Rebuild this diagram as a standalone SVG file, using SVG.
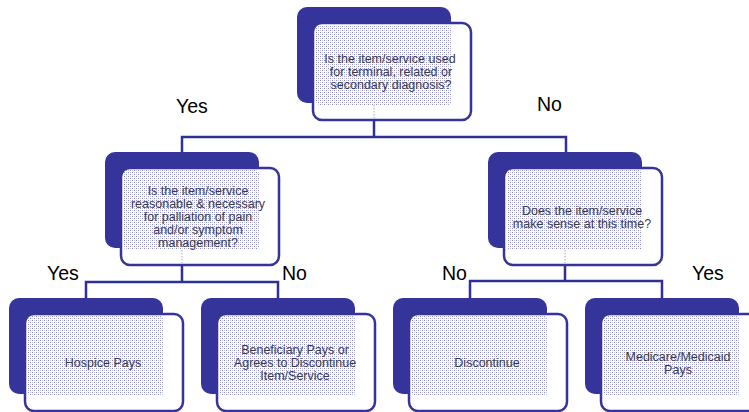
<svg xmlns="http://www.w3.org/2000/svg" width="749" height="412" viewBox="0 0 749 412">
<defs>
<pattern id="dots" patternUnits="userSpaceOnUse" width="4" height="4">
<rect width="4" height="4" fill="#ffffff"/>
<rect x="0" y="0" width="1" height="1" fill="#8c8cc8"/>
<rect x="2" y="2" width="1" height="1" fill="#8c8cc8"/>
<rect x="2" y="0" width="1" height="1" fill="#c8c8e4"/>
<rect x="0" y="2" width="1" height="1" fill="#c8c8e4"/>
</pattern>
</defs>
<style>
.back{fill:#34349a;}
.front{fill:#ffffff;stroke:#34349a;stroke-width:2.5;}
.pat{fill:url(#dots);}
.dl{stroke:#a8a8cc;stroke-width:1;stroke-dasharray:1.5 1.5;fill:none;}
.conn{stroke:#2e3192;stroke-width:2.5;fill:none;}
.t{font-family:"Liberation Sans",Arial,sans-serif;font-size:12.5px;fill:#3a3a3a;text-anchor:middle;}
.lbl{font-family:"Liberation Sans",Arial,sans-serif;font-size:19.5px;fill:#000000;}
</style>
<g id="connectors">
<polyline class="conn" points="374,120 374,137"/>
<polyline class="conn" points="182,152 182,137 566,137 566,152"/>
<polyline class="conn" points="182,265 182,282"/>
<polyline class="conn" points="86,298 86,282 278,282 278,298"/>
<polyline class="conn" points="565,265 565,281"/>
<polyline class="conn" points="470,298 470,281 662,281 662,298"/>
</g>
<g id="node1">
<rect class="back" x="297" y="7" width="154" height="96" rx="10"/>
<rect class="front" x="313" y="23" width="158" height="97" rx="9"/>
<rect class="pat" x="316" y="25" width="135" height="80" rx="4"/>
<line class="dl" x1="374" y1="105" x2="374" y2="119"/>
<text class="t" x="390" y="63">Is the item/service used</text>
<text class="t" x="391" y="76">for terminal, related or</text>
<text class="t" x="391" y="88.5">secondary diagnosis?</text>
</g>
<g id="node2">
<rect class="back" x="105" y="152" width="154" height="96" rx="10"/>
<rect class="front" x="121" y="168" width="158" height="97" rx="9"/>
<rect class="pat" x="124" y="170" width="135" height="80" rx="4"/>
<line class="dl" x1="182" y1="250" x2="182" y2="264"/>
<text class="t" x="198" y="195">Is the item/service</text>
<text class="t" x="198" y="208">reasonable &amp; necessary</text>
<text class="t" x="198" y="221">for palliation of pain</text>
<text class="t" x="198" y="233.5">and/or symptom</text>
<text class="t" x="198" y="246.5">management?</text>
</g>
<g id="node3">
<rect class="back" x="488" y="152" width="154" height="96" rx="10"/>
<rect class="front" x="504" y="168" width="158" height="97" rx="9"/>
<rect class="pat" x="507" y="170" width="135" height="80" rx="4"/>
<line class="dl" x1="565" y1="250" x2="565" y2="264"/>
<text class="t" x="582" y="215">Does the item/service</text>
<text class="t" x="582" y="228">make sense at this time?</text>
</g>
<g id="node4">
<rect class="back" x="9" y="298" width="154" height="96" rx="10"/>
<rect class="front" x="25" y="314" width="158" height="97" rx="9"/>
<rect class="pat" x="28" y="316" width="135" height="80" rx="4"/>
<text class="t" x="103" y="367">Hospice Pays</text>
</g>
<g id="node5">
<rect class="back" x="201" y="298" width="154" height="96" rx="10"/>
<rect class="front" x="217" y="314" width="158" height="97" rx="9"/>
<rect class="pat" x="220" y="316" width="135" height="80" rx="4"/>
<text class="t" x="295" y="354">Beneficiary Pays or</text>
<text class="t" x="295" y="367">Agrees to Discontinue</text>
<text class="t" x="295" y="380">Item/Service</text>
</g>
<g id="node6">
<rect class="back" x="393" y="298" width="154" height="96" rx="10"/>
<rect class="front" x="409" y="314" width="158" height="97" rx="9"/>
<rect class="pat" x="412" y="316" width="135" height="80" rx="4"/>
<text class="t" x="487" y="367">Discontinue</text>
</g>
<g id="node7">
<rect class="back" x="585" y="298" width="154" height="96" rx="10"/>
<rect class="front" x="601" y="314" width="158" height="97" rx="9"/>
<rect class="pat" x="604" y="316" width="135" height="80" rx="4"/>
<text class="t" x="678" y="361">Medicare/Medicaid</text>
<text class="t" x="678" y="374">Pays</text>
</g>
<g id="labels">
<text class="lbl" x="176" y="113">Yes</text>
<text class="lbl" x="537" y="111">No</text>
<text class="lbl" x="47" y="280">Yes</text>
<text class="lbl" x="282" y="280">No</text>
<text class="lbl" x="442" y="280">No</text>
<text class="lbl" x="692" y="280">Yes</text>
</g>
</svg>
